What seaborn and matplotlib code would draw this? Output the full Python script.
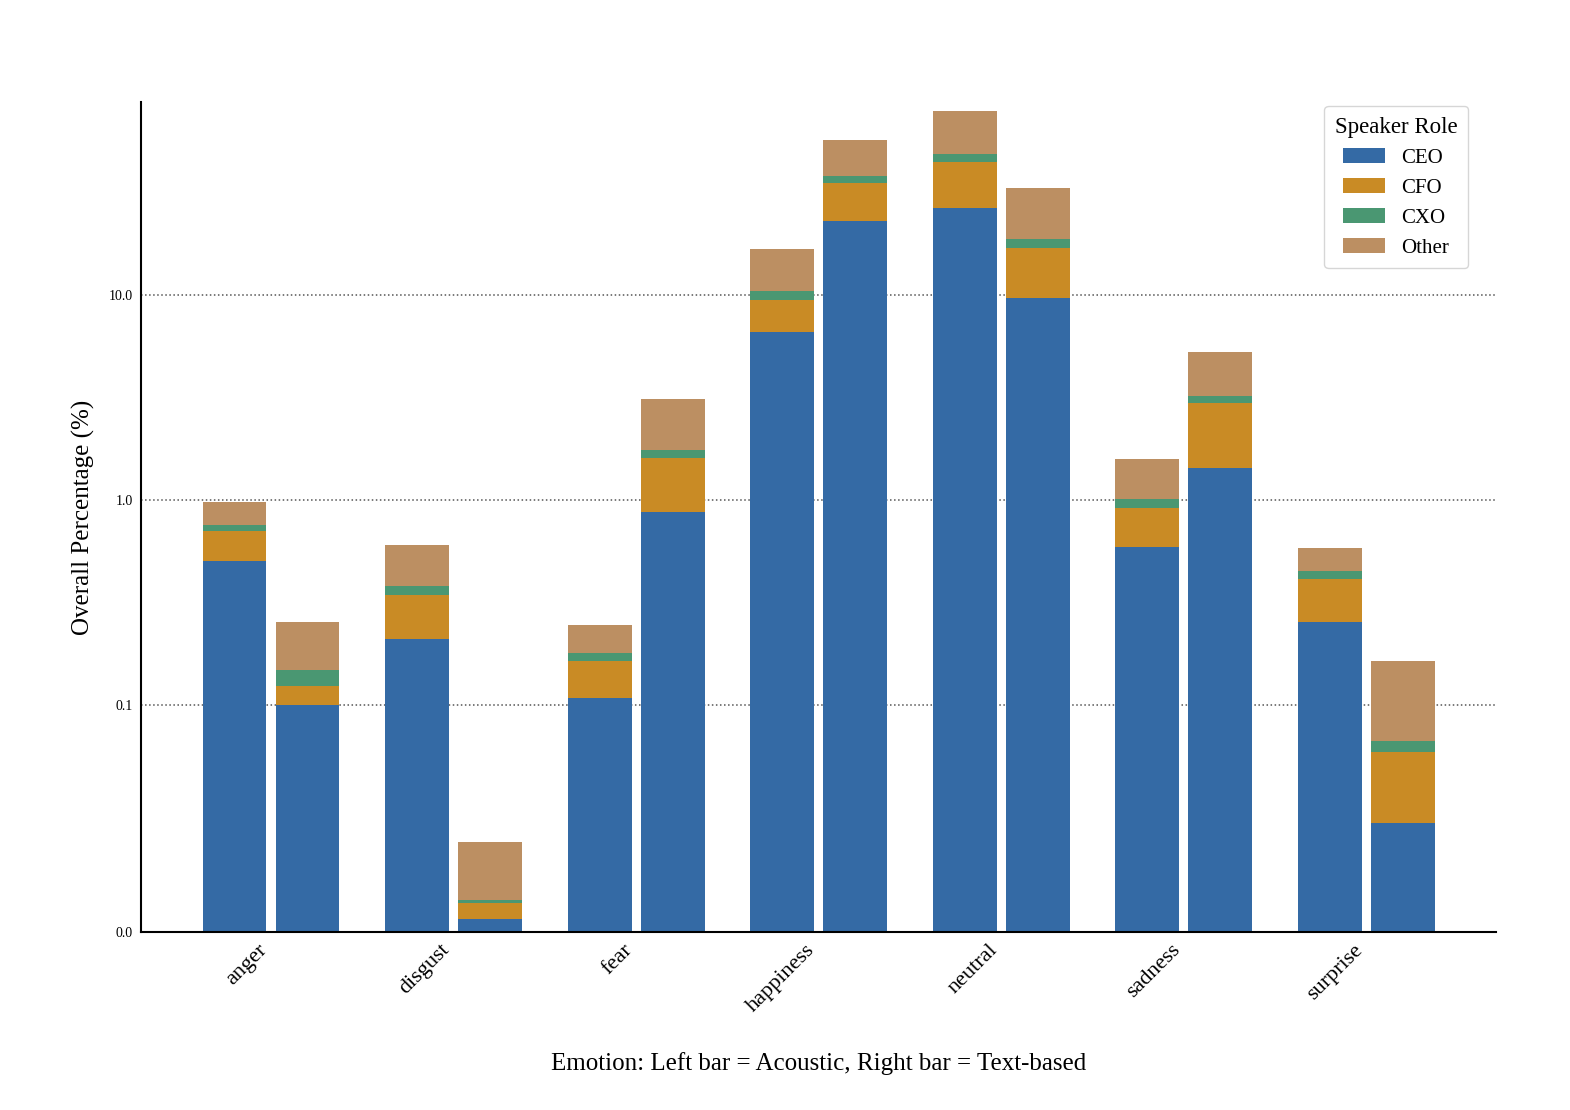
import numpy as np
import pandas as pd
import seaborn as sns
import matplotlib.pyplot as plt

emotions = ["anger", "disgust", "fear", "happiness", "neutral", "sadness", "surprise"]
roles = ["CEO", "CFO", "CXO", "Other"]

# percentage per role, acoustic model (left bar)
acoustic_ceo = [0.50, 0.21, 0.108, 6.6, 26.6, 0.59, 0.254]
acoustic_cfo = [0.20, 0.134, 0.056, 2.86, 17.9, 0.32, 0.158]
acoustic_cxo = [0.05, 0.036, 0.015, 1.0, 4.2, 0.10, 0.039]
acoustic_other = [0.22, 0.223, 0.067, 6.3, 30.3, 0.57, 0.132]

# percentage per role, text-based model (right bar)
text_ceo = [0.10, 0.0057, 0.87, 23.0, 9.6, 1.42, 0.048]
text_cfo = [0.024, 0.0071, 0.73, 12.2, 7.3, 1.55, 0.031]
text_cxo = [0.023, 0.0013, 0.15, 2.8, 1.8, 0.24, 0.005]
text_other = [0.107, 0.0255, 1.36, 19.0, 14.6, 2.06, 0.080]

role_colors = {"CEO": "#346aa5", "CFO": "#c98b25", "CXO": "#4a9772", "Other": "#bc8f62"}

sns.set_theme(style="white")
plt.rcParams["font.family"] = ["Liberation Serif", "DejaVu Serif"]
plt.rcParams["text.color"] = "black"
plt.rcParams["axes.labelcolor"] = "black"
plt.rcParams["xtick.color"] = "black"
plt.rcParams["ytick.color"] = "black"

df_ac = pd.DataFrame({"CEO": acoustic_ceo, "CFO": acoustic_cfo, "CXO": acoustic_cxo,
                      "Other": acoustic_other}, index=emotions)
df_tx = pd.DataFrame({"CEO": text_ceo, "CFO": text_cfo, "CXO": text_cxo,
                      "Other": text_other}, index=emotions)

fig = plt.figure(figsize=(15.7, 11.1), dpi=100)
ax = fig.add_axes([0.0898, 0.160, 0.8633, 0.748])

x = np.arange(len(emotions))
width = 0.35
for df, off in [(df_ac, -0.2), (df_tx, 0.2)]:
    bottom = np.zeros(len(emotions))
    for role in roles:
        ax.bar(x + off, df[role].values, width, bottom=bottom, color=role_colors[role],
               label=role if off < 0 else None, linewidth=0)
        bottom += df[role].values

ax.set_yscale("symlog", linthresh=0.1)
ax.set_ylim(0, 87)
ax.set_yticks([0, 0.1, 1, 10])
ax.set_yticklabels(["0.0", "0.1", "1.0", "10.0"], fontsize=10)
ax.yaxis.set_minor_locator(plt.NullLocator())
ax.set_xlim(-0.712, 6.712)
ax.set_xticks(x)
ax.set_xticklabels(emotions, rotation=45, ha="right", fontsize=16)
ax.tick_params(axis="both", length=0, pad=6)

ax.grid(axis="y", linestyle=":", color="#555555", linewidth=1.1)
ax.set_axisbelow(True)
sns.despine(ax=ax)
for s in ["left", "bottom"]:
    ax.spines[s].set_color("black")
    ax.spines[s].set_linewidth(1.5)

ax.set_ylabel("Overall Percentage (%)", fontsize=18, labelpad=10)
ax.set_xlabel("Emotion: Left bar = Acoustic, Right bar = Text-based", fontsize=18, labelpad=26)

leg = ax.legend(title="Speaker Role", loc="upper right", fontsize=15, title_fontsize=16.5,
                frameon=True, bbox_to_anchor=(0.979, 0.995), borderaxespad=0, borderpad=0.5)
leg.get_frame().set_edgecolor("#cccccc")

plt.savefig("out.png", dpi=100)
